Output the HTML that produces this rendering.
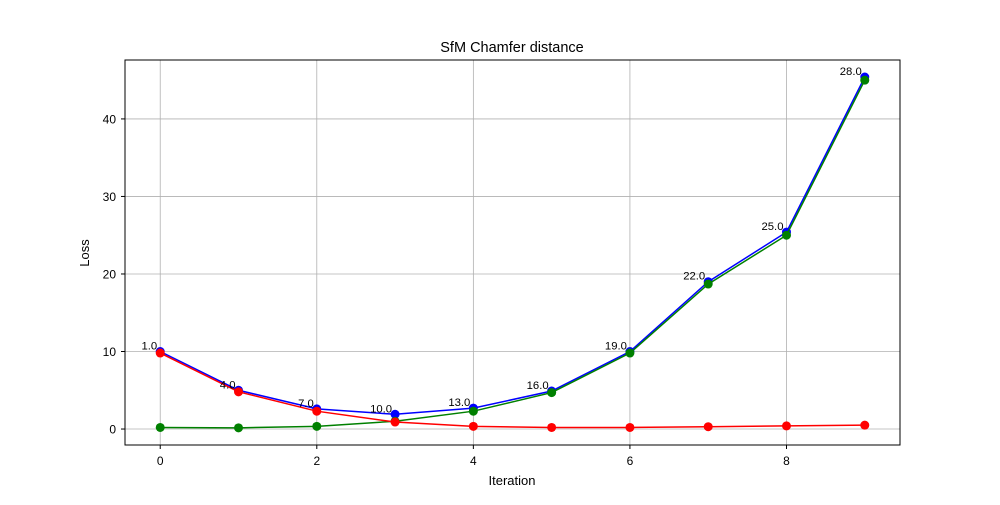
<!DOCTYPE html>
<html><head><meta charset="utf-8"><style>
body{margin:0;background:#fff}
svg text{font-family:"Liberation Sans","DejaVu Sans",sans-serif}
</style></head><body>
<svg id="chart" width="1000" height="500" xmlns="http://www.w3.org/2000/svg">
<rect width="1000" height="500" fill="#fff"/>
<g id="grid"></g>
<g id="series"></g>
<g id="labels"></g>
<rect x="125" y="60" width="775" height="385" fill="none" stroke="#000" stroke-width="1"/>
<g id="ticks"></g>
<text x="512" y="52" text-anchor="middle" font-size="14.5">SfM Chamfer distance</text>
<text x="512" y="485" text-anchor="middle" font-size="13">Iteration</text>
<text transform="translate(89,253) rotate(-90)" text-anchor="middle" font-size="13">Loss</text>
</svg>
<script>
const iterations=[0,1,2,3,4,5,6,7,8,9];
const blueValues=[10,5,2.6,1.9,2.7,4.9,10,19,25.4,45.4];
const greenValues=[0.2,0.15,0.35,1.0,2.3,4.7,9.8,18.7,25.0,45.0];
const redValues=[9.8,4.8,2.3,0.9,0.35,0.2,0.2,0.3,0.4,0.5];
const pointLabels=["1.0","4.0","7.0","10.0","13.0","16.0","19.0","22.0","25.0","28.0"];
const xTicks=[0,2,4,6,8];
const yTicks=[0,10,20,30,40];
const NS="http://www.w3.org/2000/svg";
const xs=v=>125+(v+0.45)/9.9*775;
const ys=v=>445-(v+2.06)/49.66*385;
function mk(t,a,p){const e=document.createElementNS(NS,t);for(const k in a)e.setAttribute(k,a[k]);p.appendChild(e);return e;}
const grid=document.getElementById('grid'),ticks=document.getElementById('ticks');
xTicks.forEach(t=>{
 const g=mk('line',{x1:xs(t),x2:xs(t),y1:60,y2:445,stroke:'#b0b0b0','stroke-width':0.8},grid);
 
 mk('line',{x1:xs(t),x2:xs(t),y1:445,y2:449,stroke:'#000'},ticks);
 const l=mk('text',{x:xs(t),y:465,'text-anchor':'middle','font-size':12},ticks);l.textContent=t;
 
});
yTicks.forEach(t=>{
 const g=mk('line',{x1:125,x2:900,y1:ys(t),y2:ys(t),stroke:'#b0b0b0','stroke-width':0.8},grid);
 
 mk('line',{x1:121,x2:125,y1:ys(t),y2:ys(t),stroke:'#000'},ticks);
 const l=mk('text',{x:116,y:ys(t)+4.5,'text-anchor':'end','font-size':12},ticks);l.textContent=t;
 
});
const S=document.getElementById('series');
[[blueValues,'#0000ff','blue'],[greenValues,'#008000','green'],[redValues,'#ff0000','red']].forEach(([vals,c,n])=>{
 const p=mk('polyline',{points:vals.map((v,i)=>xs(iterations[i])+','+ys(v)).join(' '),fill:'none',stroke:c,'stroke-width':1.5},S);
 
 vals.forEach((v,i)=>{const m=mk('circle',{cx:xs(iterations[i]),cy:ys(v),r:4.5,fill:c},S);
  });
});
const L=document.getElementById('labels');
pointLabels.forEach((t,i)=>{const e=mk('text',{x:xs(iterations[i])-3,y:ys(blueValues[i])-2,'text-anchor':'end','font-size':11.3},L);
 e.textContent=t;});
</script>
</body></html>
